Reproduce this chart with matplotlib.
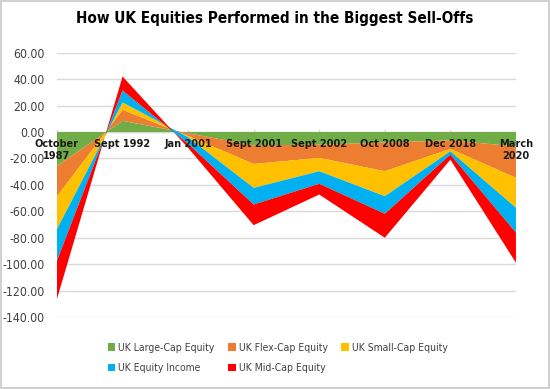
import matplotlib
matplotlib.use('Agg')
import matplotlib.pyplot as plt
import numpy as np
from matplotlib.patches import Patch

# Data (each series' own contribution)
categories = ["October\n1987", "Sept 1992", "Jan 2001", "Sept 2001",
              "Sept 2002", "Oct 2008", "Dec 2018", "March\n2020"]
large_cap = [-25.7, 8.5, -1.0, -10.1, -9.6, -8.0, -6.3, -10.9]
flex_cap = [-23.1, 8.3, -2.0, -14.1, -10.0, -21.7, -6.5, -23.8]
small_cap = [-24.7, 5.6, -1.0, -18.1, -10.1, -18.9, -1.8, -22.7]
equity_income = [-23.9, 9.0, -5.0, -12.6, -9.5, -13.3, -2.5, -18.8]
mid_cap = [-28.9, 10.6, -3.0, -15.6, -8.1, -18.1, -3.8, -22.7]

series_names = ["UK Large-Cap Equity", "UK Flex-Cap Equity", "UK Small-Cap Equity",
                "UK Equity Income", "UK Mid-Cap Equity"]
colors = ["#70AD47", "#ED7D31", "#FFC000", "#00B0F0", "#FF0000"]

plt.rcParams['font.family'] = ['DejaVu Sans']
plt.rcParams['font.stretch'] = 'condensed'

fig = plt.figure(figsize=(5.5, 3.89), dpi=100)
fig.patch.set_edgecolor('#D0D0D0')
fig.patch.set_linewidth(1.5)
ax = fig.add_axes([0.1036, 0.185, 0.8345, 0.6795])

x = np.arange(len(categories))
ax.stackplot(x, large_cap, flex_cap, small_cap, equity_income, mid_cap,
             colors=colors, linewidth=0, zorder=2)

ax.set_xlim(0, len(categories) - 1)
ax.set_ylim(-140, 60)
ax.set_yticks(np.arange(-140, 61, 20))
ax.set_yticklabels([f"{v:.2f}" for v in np.arange(-140, 61, 20)], fontsize=8.8, color='#404040')
ax.grid(axis='y', color='#D9D9D9', linewidth=1, zorder=0)
ax.set_axisbelow(True)
ax.axhline(0, color='#D9D9D9', linewidth=1, zorder=1)
for s in ax.spines.values():
    s.set_visible(False)
ax.tick_params(axis='y', length=0, pad=9)
ax.tick_params(axis='x', length=0)
ax.set_xticks([])

# category labels sit just under the zero line
for xi, lab in zip(x, categories):
    ax.plot([xi, xi], [0, 1.5], color='#D9D9D9', lw=1, zorder=1)
    ax.text(xi, -5.5, lab, ha='center', va='top', fontsize=7.8, fontweight='bold',
            color='#1a1a1a', zorder=3, linespacing=1.25)

fig.text(0.5, 0.952, "How UK Equities Performed in the Biggest Sell-Offs",
         ha='center', va='center', fontsize=11, fontweight='bold', color='black')

# legend laid out row by row like Excel
handles = [Patch(facecolor=c, edgecolor='none') for c in colors]
order = [0, 3, 1, 4, 2]
fig.legend([handles[i] for i in order], [series_names[i] for i in order],
           loc='center', bbox_to_anchor=(0.505, 0.08), ncol=3, frameon=False,
           fontsize=7.5, handlelength=0.7, handleheight=0.7, handletextpad=0.3,
           columnspacing=1.3, labelspacing=1.0, labelcolor='#404040')

fig.savefig("out.png", dpi=100)
